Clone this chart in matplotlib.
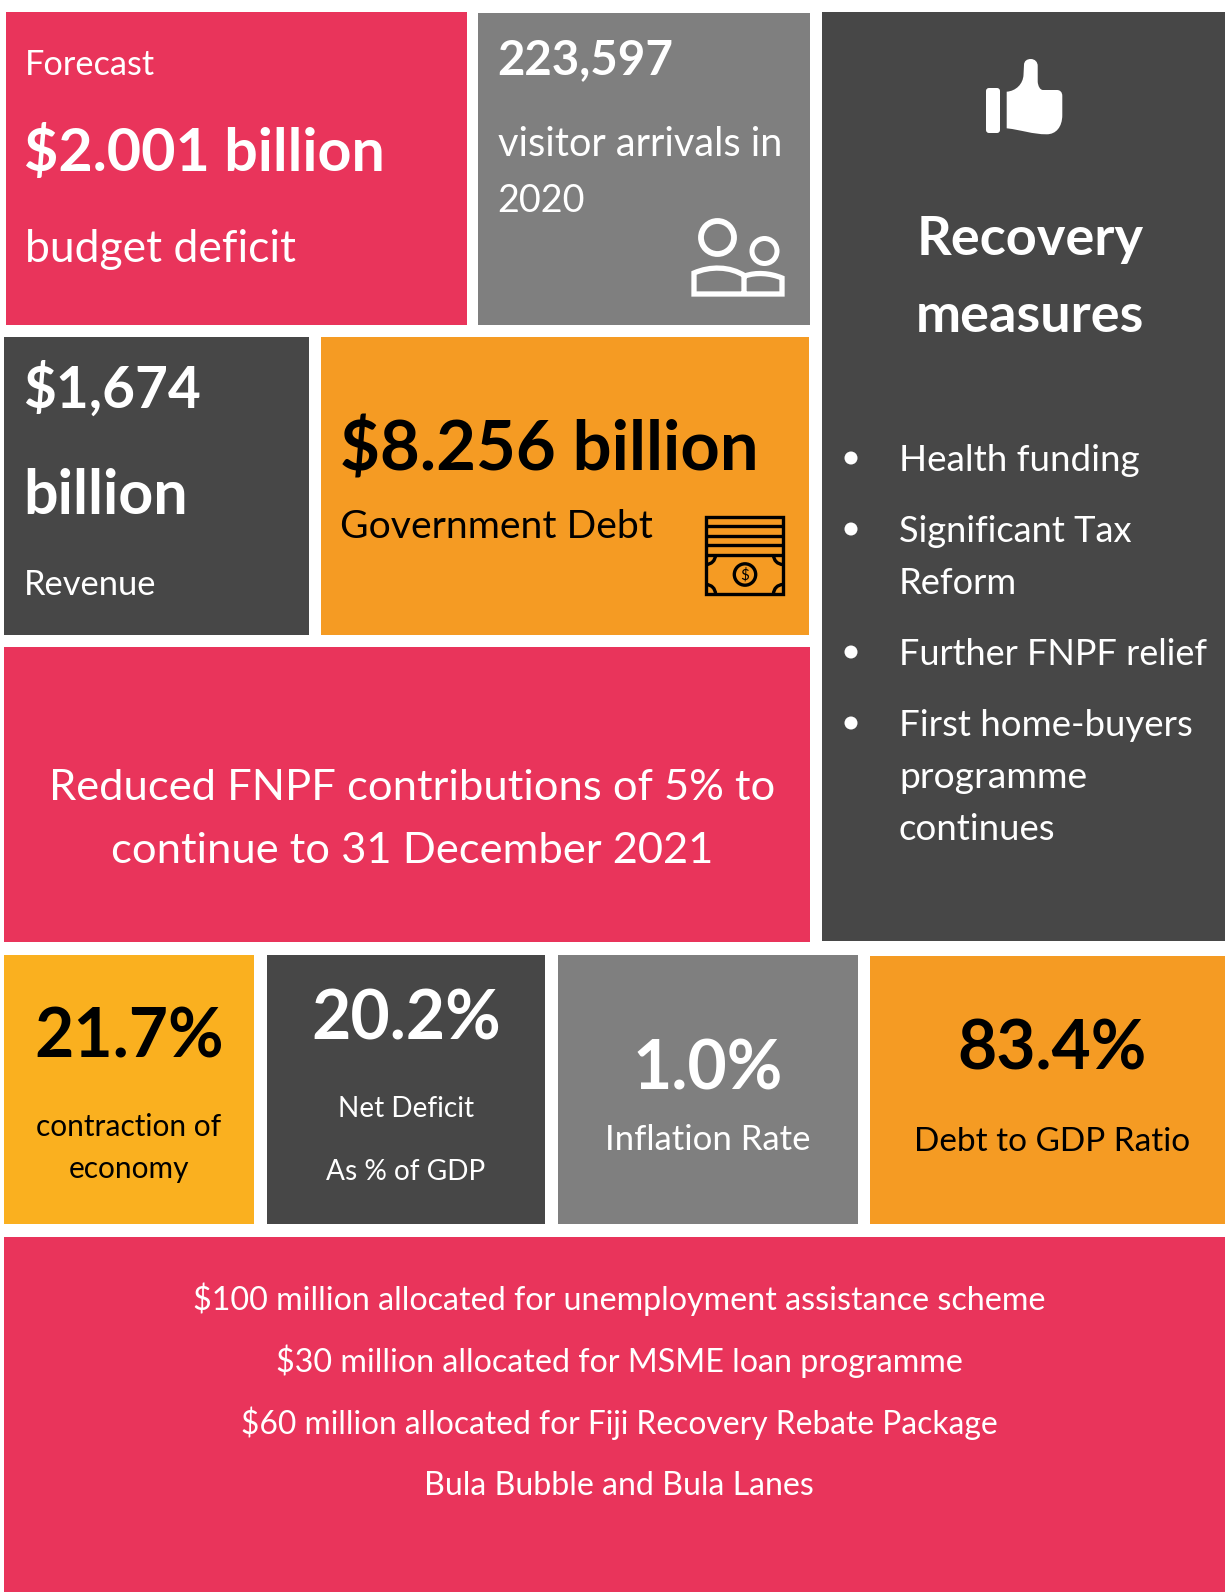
import matplotlib

matplotlib.use("Agg")
import matplotlib.pyplot as plt
from matplotlib.patches import Arc, Circle, FancyBboxPatch, PathPatch, Rectangle
from matplotlib.path import Path

RED = "#E9345B"
DARK = "#474747"
GRAY = "#7F7F7F"
ORANGE = "#F59B23"
YELLOW = "#FAB01F"

deficit_texts = ["Forecast", "$2.001 billion", "budget deficit"]
visitor_texts = ["223,597", "visitor arrivals in", "2020"]
revenue_texts = ["$1,674", "billion", "Revenue"]
debt_texts = ["$8.256 billion", "Government Debt"]
fnpf_lines = ["Reduced FNPF contributions of 5% to", "continue to 31 December 2021"]
recovery_title = ["Recovery", "measures"]
recovery_items = [
    ["Health funding"],
    ["Significant Tax", "Reform"],
    ["Further FNPF relief"],
    ["First home-buyers", "programme", "continues"],
]
stat_values = ["21.7%", "20.2%", "1.0%", "83.4%"]
stat_captions = [
    ["contraction of", "economy"],
    ["Net Deficit", "As % of GDP"],
    ["Inflation Rate"],
    ["Debt to GDP Ratio"],
]
allocation_lines = [
    "$100 million allocated for unemployment assistance scheme",
    "$30 million allocated for MSME loan programme",
    "$60 million allocated for Fiji Recovery Rebate Package",
    "Bula Bubble and Bula Lanes",
]

plt.rcParams["font.family"] = ["Lato", "DejaVu Sans"]

fig = plt.figure(figsize=(12.25, 15.92), dpi=100)
ax = fig.add_axes([0, 0, 1, 1])
ax.set_xlim(0, 1225)
ax.set_ylim(1592, 0)
ax.axis("off")


def panel(x0, y0, x1, y1, color):
    ax.add_patch(Rectangle((x0, y0), x1 - x0, y1 - y0, fc=color, ec="none"))


def label(x, y, s, size, color="white", bold=False, ha="left"):
    ax.text(x, y, s, fontsize=size, color=color, ha=ha, va="baseline",
            fontweight="bold" if bold else "normal")


panel(6, 12, 467, 325, RED)
panel(478, 13, 810, 325, GRAY)
panel(822, 12, 1225, 941, DARK)
panel(4, 337, 309, 635, DARK)
panel(321, 337, 809, 635, ORANGE)
panel(4, 647, 810, 942, RED)
panel(4, 955, 254, 1224, YELLOW)
panel(267, 955, 545, 1224, DARK)
panel(558, 955, 858, 1224, GRAY)
panel(870, 956, 1225, 1224, ORANGE)
panel(4, 1237, 1225, 1592, RED)

label(24.5, 75, deficit_texts[0], 24.7)
label(24.5, 171, deficit_texts[1], 42.6, bold=True)
label(25, 262, deficit_texts[2], 32)

label(497, 74, visitor_texts[0], 34.2, bold=True)
label(497.5, 156, visitor_texts[1], 28.6)
label(497.5, 212, visitor_texts[2], 27.2)

label(23, 408, revenue_texts[0], 40.9, bold=True)
label(23.5, 514, revenue_texts[1], 43.8, bold=True)
label(23.5, 595, revenue_texts[2], 24.8)

label(339.5, 470, debt_texts[0], 49.5, color="black", bold=True)
label(339.5, 538.5, debt_texts[1], 28.2, color="black")

for y, s in zip([800, 863], fnpf_lines):
    label(412, y, s, 31.3, ha="center")

for y, s in zip([255, 332], recovery_title):
    label(1030, y, s, 39, bold=True, ha="center")

item_baselines = [[471], [542, 594], [665], [736, 788, 840]]
item_sizes = [[26.5], [26.1, 26.1], [26], [26.4, 26.8, 26.4]]
for item, ys, sizes in zip(recovery_items, item_baselines, item_sizes):
    ax.add_patch(Circle((851, ys[0] - 13), 6.5, fc="white", ec="none"))
    for y, s, size in zip(ys, item, sizes):
        label(899, y, s, size)

stat_centers = [129, 406, 708, 1052.5]
stat_baselines = [1058, 1040, 1089, 1070]
stat_colors = ["black", "white", "white", "black"]
caption_baselines = [[1136, 1178], [1117, 1180], [1150], [1151]]
caption_sizes = [21.5, 20.2, 25, 24]
for i, value in enumerate(stat_values):
    label(stat_centers[i], stat_baselines[i], value, 48.8, color=stat_colors[i], bold=True, ha="center")
    for y, s in zip(caption_baselines[i], stat_captions[i]):
        label(stat_centers[i], y, s, caption_sizes[i], color=stat_colors[i], ha="center")

for y, s, size in zip([1310, 1372, 1434, 1495], allocation_lines, [23.2, 23.2, 22.9, 23.1]):
    label(619, y, s, size, ha="center")

# people icon
ax.add_patch(Circle((717.5, 237.5), 16.5, fc="none", ec="white", lw=4.2))
ax.add_patch(Circle((764.5, 251), 12.5, fc="none", ec="white", lw=3.6))
body = Path(
    [(694, 294), (694, 273), (710, 266), (730, 266), (745, 276), (756, 272), (770, 273),
     (782, 278), (782, 294), (694, 294), (744, 276), (744, 294)],
    [Path.MOVETO, Path.LINETO, Path.CURVE4, Path.CURVE4, Path.CURVE4, Path.CURVE4, Path.CURVE4,
     Path.CURVE4, Path.LINETO, Path.CLOSEPOLY, Path.MOVETO, Path.LINETO],
)
ax.add_patch(PathPatch(body, fc="none", ec="white", lw=3.8, joinstyle="miter"))

# banknote icon
ax.add_patch(Rectangle((706, 517), 77, 77, fc="none", ec="black", lw=2.4))
for y in [526, 535.5, 545, 555]:
    ax.plot([706, 783], [y, y], color="black", lw=2.4, solid_capstyle="butt")
ax.add_patch(Circle((745, 574.5), 10.7, fc="none", ec="black", lw=2.4))
ax.text(745, 575, "$", fontsize=11, color="black", ha="center", va="center")
corners = [(706, 555, 0, 90), (783, 555, 90, 180), (706, 594, 270, 360), (783, 594, 180, 270)]
for cx, cy, a0, a1 in corners:
    ax.add_patch(Arc((cx, cy), 19, 19, theta1=a0, theta2=a1, color="black", lw=2.4))

# thumbs-up icon
ax.add_patch(FancyBboxPatch((988, 90), 10, 41, boxstyle="round,pad=2,rounding_size=3", fc="white", ec="none"))
hand = Path(
    [(1006.7, 91.7), (1016, 91), (1023, 84), (1023.5, 75), (1024, 65), (1024, 61), (1027, 59),
     (1030.7, 59), (1035, 59), (1037.7, 62), (1037.7, 66), (1037.7, 81.7), (1038, 86), (1040, 90),
     (1043, 90), (1057, 90), (1060, 90), (1062.3, 92), (1062.3, 96), (1062.3, 115), (1062.3, 127),
     (1056, 134.3), (1046.7, 134.3), (1032, 134.3), (1022, 130), (1006.7, 128.3), (1006.7, 91.7)],
    [Path.MOVETO, Path.CURVE4, Path.CURVE4, Path.CURVE4, Path.LINETO, Path.CURVE4, Path.CURVE4,
     Path.CURVE4, Path.CURVE4, Path.CURVE4, Path.CURVE4, Path.LINETO, Path.CURVE4, Path.CURVE4,
     Path.CURVE4, Path.LINETO, Path.CURVE4, Path.CURVE4, Path.CURVE4, Path.LINETO, Path.CURVE4,
     Path.CURVE4, Path.CURVE4, Path.CURVE4, Path.CURVE4, Path.CURVE4, Path.CLOSEPOLY],
)
ax.add_patch(PathPatch(hand, fc="white", ec="none"))

fig.savefig("out.png", dpi=100, facecolor="white")
